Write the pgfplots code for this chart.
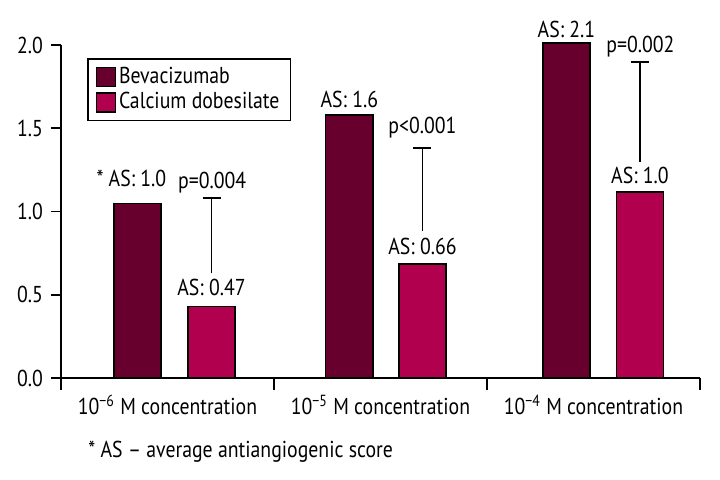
\documentclass[border=0pt]{standalone}
\usepackage{pgfplots}
\pgfplotsset{compat=1.18}
\usepackage{fontspec}
\setmainfont{PT Sans}[FakeStretch=0.86]
\definecolor{bev}{RGB}{104,0,46}
\definecolor{cal}{RGB}{176,0,78}
\newcommand{\sz}{\fontsize{11.5}{13.5}\selectfont}
\begin{document}
\sz
\begin{tikzpicture}[font=\sz]
\begin{axis}[name=ax, scale only axis, width=319.5pt, height=166.5pt,
  xmin=0, xmax=3, ymin=0, ymax=2, clip=false,
  axis x line=bottom, axis y line=left,
  axis line style={-, line width=0.8pt},
  tick align=outside, major tick length=5pt, minor tick length=6pt,
  tick style={line width=0.8pt, black},
  ytick={0,0.5,1,1.5,2},
  yticklabel style={/pgf/number format/.cd, fixed, fixed zerofill, precision=1, assume math mode=true},
  xtick={0.5,1.5,2.5},
  xticklabels={10\textsuperscript{−6} M concentration, 10\textsuperscript{−5} M concentration, 10\textsuperscript{−4} M concentration},
  every major x tick/.append style={draw=none},
  minor xtick={0,1,2,3},
  xticklabel style={anchor=base, yshift=-13.5pt},
  legend style={at={(0.0407,0.961)}, anchor=north west, draw=black, line width=0.8pt,
    inner xsep=4pt, inner ysep=2.5pt, row sep=0pt, font=\sz,
    nodes={inner sep=1.5pt}},
  legend cell align=left,
  legend image code/.code={\draw[#1, line width=0.6pt] (0pt,-4.75pt) rectangle (9.5pt,4.75pt);},
]
\addplot[ybar, bar width=0.2207, bar shift=0pt, fill=bev, draw=black, line width=0.6pt]
  coordinates {(0.359,1.05) (1.354,1.58) (2.373,2.012)};
\addlegendentry{Bevacizumab}
\addplot[ybar, bar width=0.2207, bar shift=0pt, fill=cal, draw=black, line width=0.6pt]
  coordinates {(0.7066,0.43) (1.697,0.685) (2.718,1.117)};
\addlegendentry{Calcium dobesilate}

% bar labels
\node[anchor=base] at (axis cs:0.359,1.153) {\llap{* }AS: 1.0};
\node[anchor=base] at (axis cs:0.7066,0.498) {AS: 0.47};
\node[anchor=base] at (axis cs:1.354,1.622) {AS: 1.6};
\node[anchor=base] at (axis cs:1.697,0.739) {AS: 0.66};
\node[anchor=base] at (axis cs:2.373,2.048) {AS: 2.1};
\node[anchor=base] at (axis cs:2.718,1.171) {AS: 1.0};

% p-value brackets
\draw[line width=0.6pt] (axis cs:0.7066,0.63) -- (axis cs:0.7066,1.081);
\draw[line width=0.6pt] (axis cs:0.7066,1.081) ++(-4.5pt,0) -- ++(9pt,0);
\draw[line width=0.6pt] (axis cs:1.697,0.885) -- (axis cs:1.697,1.381);
\draw[line width=0.6pt] (axis cs:1.697,1.381) ++(-4.5pt,0) -- ++(9pt,0);
\draw[line width=0.6pt] (axis cs:2.718,1.297) -- (axis cs:2.718,1.898);
\draw[line width=0.6pt] (axis cs:2.718,1.898) ++(-4.5pt,0) -- ++(9pt,0);
\node[anchor=base] at (axis cs:0.71,1.141) {p=0.004};
\node[anchor=base] at (axis cs:1.697,1.471) {p<0.001};
\node[anchor=base] at (axis cs:2.72,1.952) {p=0.002};

% footnote
\node[anchor=base west, inner sep=0pt] at (axis cs:0.127,-0.48) {* AS – average antiangiogenic score};
\end{axis}
\pgfresetboundingbox
\path (ax.south west) ++(-30.5pt,-51pt) rectangle ++(360pt,240pt);
\end{tikzpicture}
\end{document}
